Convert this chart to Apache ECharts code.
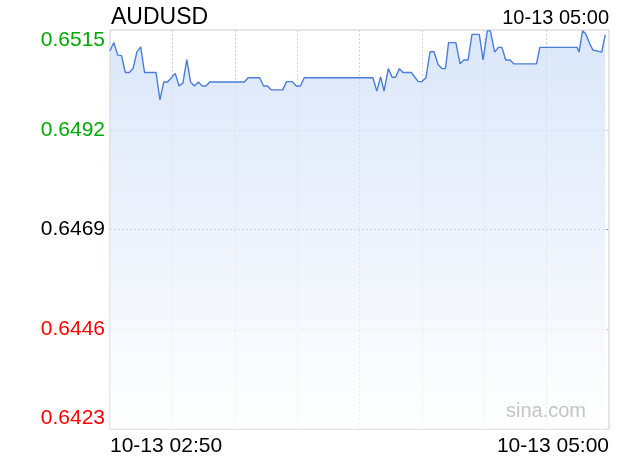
<!DOCTYPE html>
<html>
<head>
<meta charset="utf-8">
<script src="https://cdn.jsdelivr.net/npm/echarts@6/dist/echarts.min.js"></script>
<style>
html,body{margin:0;padding:0;background:#fff;}
#chart{width:620px;height:460px;}
</style>
</head>
<body>
<div id="chart"></div>
<script>
// Minutes after 10-13 02:50
var minutes = [0,1,2,3,4,5,6,7,8,9,12,13,14,15,17,18,19,20,21,22,23,24,25,26,35,36,39,40,41,42,45,46,47.5,48.5,49.6,50.6,68.5,69.5,70.5,71.4,72.5,73.5,74.4,75.4,76.3,78.5,80.3,81.3,82.3,83.4,84.4,85.5,86.5,87.4,88.2,90.1,91.2,92.2,93.3,94.3,96.2,97.2,98.3,99.1,100.2,101.2,102.1,103.1,104.2,105.2,111.1,112,121.7,122.2,123.1,123.9,125,125.8,128.1,129];
var prices = [0.65102,0.65121,0.65092,0.65091,0.65052,0.65052,0.65061,0.65099,0.65111,0.65052,0.65052,0.64989,0.65030,0.65030,0.65050,0.65021,0.65028,0.65082,0.65030,0.65021,0.65030,0.65021,0.65021,0.65030,0.65030,0.65040,0.65040,0.65021,0.65021,0.65012,0.65012,0.65031,0.65031,0.65021,0.65021,0.65040,0.65040,0.65009,0.65042,0.65009,0.65061,0.65041,0.65041,0.65061,0.65052,0.65052,0.65031,0.65031,0.65040,0.65100,0.65100,0.65070,0.65061,0.65061,0.65121,0.65121,0.65072,0.65081,0.65081,0.65140,0.65140,0.65081,0.65148,0.65148,0.65099,0.65110,0.65110,0.65081,0.65081,0.65072,0.65072,0.65110,0.65110,0.65099,0.65148,0.65142,0.65118,0.65104,0.65099,0.65139];
var yTicks = [0.6423,0.6446,0.6469,0.6492,0.6515];
var yTickColors = ['#ff0000','#ff0000','#000000','#00aa00','#00aa00'];
var xStartLabel = '10-13 02:50';
var xEndLabel = '10-13 05:00';
var titleText = 'AUDUSD';
var timeText = '10-13 05:00';
var totalMinutes = 130;

var base = yTicks[0];
var step = yTicks[1] - yTicks[0];
var unit = 0.0001;
var toUnits = function(p){ return (p - base) / unit; };
var seriesData = minutes.map(function(m, i){ return [m, toUnits(prices[i])]; });
var yMax = Math.round(toUnits(yTicks[yTicks.length-1]));
var yInterval = Math.round(step / unit);

var chart = echarts.init(document.getElementById('chart'), null, {renderer:'canvas'});
var FONT = 'Liberation Sans, Arial, Helvetica, sans-serif';
chart.setOption({
  animation: false,
  backgroundColor: '#ffffff',
  title: [
    {text: titleText, left: 106, top: 1, textStyle:{fontFamily:FONT, fontSize:23, fontWeight:'normal', color:'#000'}},
    {text: timeText, right: 6, top: 3, textStyle:{fontFamily:FONT, fontSize:20, fontWeight:'normal', color:'#000'}}
  ],
  graphic: [{
    type: 'text', right: 34, top: 401, silent: true, z: 100,
    style: {text: 'sina.com', fontFamily: FONT, fontSize: 20, fill: '#c4c4c4'}
  }],
  grid: {left:110, top:30, width:499, height:399, show:true, borderColor:'#cccccc', borderWidth:1, backgroundColor:'transparent'},
  xAxis: {
    type:'value', min:0, max:totalMinutes, interval: totalMinutes/8,
    axisLine:{show:false}, axisTick:{show:false},
    splitLine:{show:true, lineStyle:{color:['transparent','#cdd1d8','#cdd1d8','#cdd1d8','#cdd1d8','#cdd1d8','#cdd1d8','#cdd1d8','transparent'], type:[2,2], width:1}},
    axisLabel:{
      show:true, margin:7, fontFamily:FONT, fontSize:21, color:'#000',
      alignMinLabel:'left', alignMaxLabel:'right',
      formatter:function(v){ if (v === 0) return xStartLabel; if (Math.abs(v - totalMinutes) < 1e-6) return xEndLabel; return ''; }
    }
  },
  yAxis: {
    type:'value', min:0, max:yMax, interval:yInterval,
    axisLine:{show:false}, axisTick:{show:false},
    splitLine:{show:true, lineStyle:{color:['transparent','#cdd1d8','#9a9eaa','#cdd1d8','transparent'], type:[2,2], width:1}},
    axisLabel:{
      show:true, margin:5, fontFamily:FONT, fontSize:21,
      verticalAlignMinLabel:'bottom', verticalAlignMaxLabel:'top',
      formatter:function(v){ return (base + v*unit).toFixed(4); },
      color:function(v){ var i = Math.round(Number(v)/yInterval); if (isNaN(i)) { var p = parseFloat(v); i = Math.round((p-base)/step); } return yTickColors[i] || '#000'; }
    }
  },
  series: [{
    type:'line', data: seriesData, symbol:'none', smooth:false,
    lineStyle:{color:'#4a7dd6', width:1.4},
    areaStyle:{color:new echarts.graphic.LinearGradient(0,0,0,1,[{offset:0,color:'#cbdcf7'},{offset:1,color:'#ffffff'}])}
  }]
});
</script>
</body>
</html>
